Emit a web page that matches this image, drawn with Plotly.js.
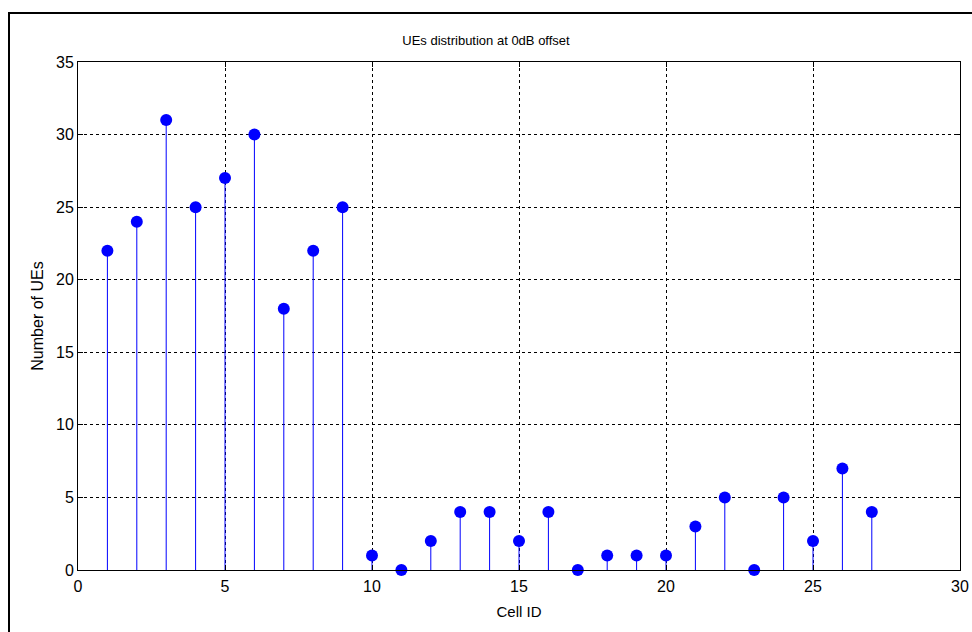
<!DOCTYPE html>
<html>
<head>
<meta charset="utf-8">
<script src="https://cdn.plot.ly/plotly-3.0.1.min.js"></script>
<style>
  html, body { margin: 0; padding: 0; background: #fff; }
  #wrap { position: relative; width: 972px; height: 632px; overflow: hidden; }
  #chart { position: absolute; left: 0; top: 0; width: 972px; height: 632px; }
  #frame { position: absolute; left: 8px; top: 12px; width: 980px; height: 640px;
           border-top: 2px solid #000; border-left: 2px solid #000; pointer-events: none; }
</style>
</head>
<body>
<div id="wrap">
  <div id="chart"></div>
  <div id="frame"></div>
</div>
<script>
// Number of UEs attached to each cell
const cellIds = [1, 2, 3, 4, 5, 6, 7, 8, 9, 10, 11, 12, 13, 14, 15, 16, 17, 18, 19, 20, 21, 22, 23, 24, 25, 26, 27];
const ueCounts = [22, 24, 31, 25, 27, 30, 18, 22, 25, 1, 0, 2, 4, 4, 2, 4, 0, 1, 1, 1, 3, 5, 0, 5, 2, 7, 4];
const xTicks = [0, 5, 10, 15, 20, 25, 30];
const yTicks = [0, 5, 10, 15, 20, 25, 30, 35];

const font = 'Liberation Sans, Arial, sans-serif';

// Stem plot: markers with a one-sided error bar dropping to zero
const stems = {
  type: 'scatter',
  mode: 'markers',
  x: cellIds,
  y: ueCounts,
  cliponaxis: false,
  marker: { color: '#0000ff', size: 12, symbol: 'circle', line: { width: 0 } },
  error_y: {
    type: 'data',
    symmetric: false,
    array: ueCounts.map(() => 0),
    arrayminus: ueCounts,
    color: '#0000ff',
    thickness: 1,
    width: 0
  },
  hoverinfo: 'x+y'
};

const axisCommon = {
  showline: true,
  linecolor: '#000',
  linewidth: 1,
  mirror: 'ticks',
  ticks: 'inside',
  ticklen: 5,
  tickcolor: '#000',
  showgrid: true,
  gridcolor: '#000',
  gridwidth: 1,
  griddash: 'dot',
  zeroline: false,
  tickfont: { family: font, size: 16, color: '#000' }
};

const layout = {
  width: 972,
  height: 632,
  margin: { l: 78, r: 12, t: 62, b: 62 },
  paper_bgcolor: '#fff',
  plot_bgcolor: '#fff',
  showlegend: false,
  title: {
    text: 'UEs distribution at 0dB offset',
    font: { family: font, size: 13, color: '#000' },
    x: 0.5, xanchor: 'center',
    y: 1 - 40 / 632, yanchor: 'middle'
  },
  xaxis: Object.assign({}, axisCommon, {
    range: [0, 30],
    tickvals: xTicks,
    ticktext: xTicks.map(String),
    ticklabelstandoff: 2,
    title: { text: 'Cell ID', font: { family: font, size: 15, color: '#000' }, standoff: 12 }
  }),
  yaxis: Object.assign({}, axisCommon, {
    range: [0, 35],
    tickvals: yTicks,
    ticktext: yTicks.map(String),
    title: { text: 'Number of UEs', font: { family: font, size: 16, color: '#000' }, standoff: 8 }
  })
};

Plotly.newPlot('chart', [stems], layout, { displayModeBar: false, staticPlot: true });
</script>
</body>
</html>
